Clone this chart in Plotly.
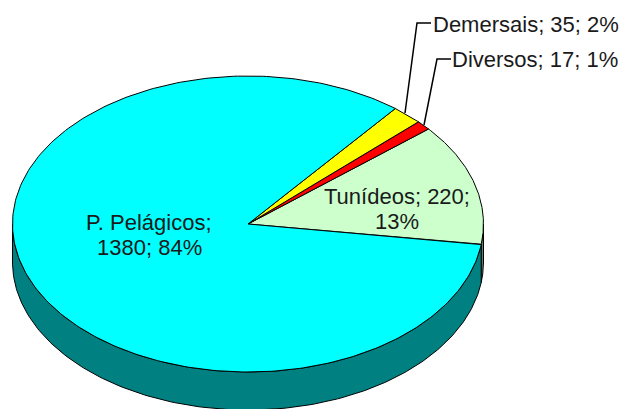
import numpy as np
import plotly.graph_objects as go

categories = ["Tunídeos", "Diversos", "Demersais", "P. Pelágicos"]
values = [220, 17, 35, 1380]
percents = [13, 1, 2, 84]
colors = ["#CCFFCC", "#FF0000", "#FFFF00", "#00FFFF"]
wall_colors = ["#668066", "#800000", "#808000", "#008080"]

W, H = 624, 409
CX, CY, RX, RY, DEPTH = 248, 224, 235.5, 148, 38
START = -8.0
INK = "#1a1a1a"
FS = 22

def pt(a, drop=0):
    r = np.radians(a)
    return CX + RX * np.cos(r), CY - RY * np.sin(r) + drop

total = sum(values)
fig = go.Figure()
angle = START
spans = []
for v in values:
    spans.append((angle, angle + v / total * 360))
    angle += v / total * 360

# side walls (only the part of each slice facing the viewer: angles 180..360)
for (a0, a1), col in zip(spans, wall_colors):
    for shift in (0, 360, -360):
        lo, hi = max(a0 + shift, 180), min(a1 + shift, 360)
        if hi <= lo:
            continue
        t = np.linspace(lo, hi, 200)
        xt, yt = pt(t)
        xb, yb = pt(t[::-1], DEPTH)
        fig.add_trace(go.Scatter(
            x=np.r_[xt, xb, xt[0]], y=np.r_[yt, yb, yt[0]], mode="lines", fill="toself",
            fillcolor=col, line=dict(color="#000000", width=1), hoverinfo="skip", showlegend=False))

# top faces
for name, (a0, a1), col in zip(categories, spans, colors):
    t = np.linspace(a0, a1, 300)
    x, y = pt(t)
    fig.add_trace(go.Scatter(
        x=np.r_[CX, x, CX], y=np.r_[CY, y, CY], mode="lines", fill="toself", name=name,
        fillcolor=col, line=dict(color="#000000", width=1), hoverinfo="name", showlegend=False))

def lab(i):
    return f"{categories[i]}; {values[i]}; {percents[i]}%"

def text(x, y, s, anchor="center"):
    fig.add_annotation(x=x, y=y, text=s, showarrow=False, xanchor=anchor, yanchor="middle")

text(397, 196, f"{categories[0]}; {values[0]};")
text(397, 221, f"{percents[0]}%")
text(149, 222, f"{categories[3]};")
text(149, 247, f"{values[3]}; {percents[3]}%")
text(431, 24, lab(2), "left")
text(450, 59, lab(1), "left")

leaders = [
    "M 405 113 L 417 23 L 431 23",
    "M 424 125 L 437 59 L 451 59",
]
shapes = [dict(type="path", path=p, xref="x", yref="y", line=dict(color="#000000", width=1.5)) for p in leaders]

fig.update_layout(
    width=W, height=H, margin=dict(l=0, r=0, t=0, b=0), paper_bgcolor="white", plot_bgcolor="white",
    xaxis=dict(range=[0, W], visible=False, fixedrange=True),
    yaxis=dict(range=[H, 0], visible=False, fixedrange=True),
    font=dict(family="Liberation Sans, Arial, sans-serif", size=FS, color=INK),
    shapes=shapes,
)
fig.write_html("out.html", config=dict(displayModeBar=False),
               post_script="document.body.style.margin='0';document.body.style.overflow='hidden';")
